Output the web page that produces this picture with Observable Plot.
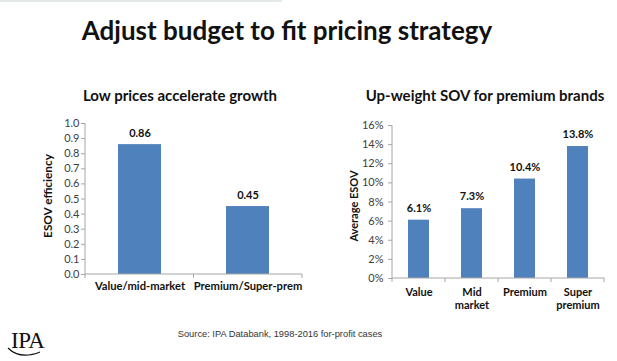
<!DOCTYPE html>
<html>
<head>
<meta charset="utf-8">
<script src="https://cdn.jsdelivr.net/npm/d3@7"></script>
<script src="https://cdn.jsdelivr.net/npm/@observablehq/plot@0.6"></script>
<style>
  html, body { margin: 0; padding: 0; background: #fff; }
  #page { position: relative; width: 617px; height: 361px; overflow: hidden; font-family: Lato, "Open Sans", sans-serif; background: #fff; }
  .abs { position: absolute; white-space: nowrap; }
  #topbar { left: 0; top: 0; width: 282px; height: 2px; background: #e3e9e9; }
  #title { left: 0; top: 15px; width: 574px; text-align: center; font-weight: 700; font-size: 26px; line-height: 30px; color: #111; }
  .sub { font-weight: 700; font-size: 15px; line-height: 16px; color: #111; text-align: center; }
  #subL { left: 60px; top: 87px; width: 240px; }
  #subR { left: 365px; top: 87px; width: 240px; }
  #chartL { left: 0; top: 110px; }
  #chartR { left: 320px; top: 110px; }
  #source { left: 80px; top: 329px; width: 400px; text-align: center; font-family: "Liberation Sans", Arial, sans-serif; font-size: 9.3px; color: #333; }
  #logo { left: 11px; top: 328px; font-family: "Liberation Serif", "Times New Roman", serif; font-size: 23px; line-height: 26px; color: #111; letter-spacing: -0.5px; }
  #swoosh { left: 6px; top: 346px; }
</style>
</head>
<body>
<div id="page">
  <div id="topbar" class="abs"></div>
  <div id="title" class="abs">Adjust budget to fit pricing strategy</div>
  <div id="subL" class="abs sub">Low prices accelerate growth</div>
  <div id="subR" class="abs sub">Up-weight SOV for premium brands</div>
  <div id="chartL" class="abs"></div>
  <div id="chartR" class="abs"></div>
  <div id="source" class="abs">Source: IPA Databank, 1998-2016 for-profit cases</div>
  <div id="logo" class="abs">IPA</div>
  <svg id="swoosh" class="abs" width="40" height="14"><path d="M2,2 Q14,14 34,6" fill="none" stroke="#111" stroke-width="1.2"/></svg>
</div>
<script>
// ---- data ----
const leftCategories = ["Value/mid-market", "Premium/Super-prem"];
const leftValues = [0.86, 0.45];
const leftTicks = [0, 0.1, 0.2, 0.3, 0.4, 0.5, 0.6, 0.7, 0.8, 0.9, 1.0];
const leftYLabel = "ESOV efficiency";

const rightCategories = ["Value", "Mid market", "Premium", "Super premium"];
const rightValues = [6.1, 7.3, 10.4, 13.8];   // percent
const rightTicks = [0, 2, 4, 6, 8, 10, 12, 14, 16];
const rightYLabel = "Average ESOV";

const BAR = "#4f81bd";
const AXIS = "#a6a6a6";
const TICKTXT = "#404040";

// axis lines + category-boundary ticks, computed from the scales
function axisFrame() {
  return (index, scales, values, dims) => {
    const {width, height, marginLeft, marginRight, marginTop, marginBottom} = dims;
    const x = scales.x;
    const dom = x.domain();
    const bw = x.bandwidth();
    const centers = dom.map(d => x(d) + bw / 2);
    const xs = [marginLeft, ...centers.slice(1).map((c, i) => (c + centers[i]) / 2), width - marginRight];
    const y0 = height - marginBottom;
    const g = d3.create("svg:g").attr("stroke", AXIS).attr("fill", "none").attr("stroke-width", 1);
    g.append("line").attr("x1", marginLeft).attr("x2", marginLeft).attr("y1", marginTop).attr("y2", y0);
    g.append("line").attr("x1", marginLeft).attr("x2", width - marginRight).attr("y1", y0).attr("y2", y0);
    for (const xx of xs) g.append("line").attr("x1", xx).attr("x2", xx).attr("y1", y0).attr("y2", y0 + 4);
    return g.node();
  };
}

const leftData = leftCategories.map((c, i) => ({cat: c, v: leftValues[i]}));
const rightData = rightCategories.map((c, i) => ({cat: c, v: rightValues[i]}));

const pad = 0.6;
const left = Plot.plot({
  width: 310, height: 200,
  marginLeft: 85, marginRight: 8, marginTop: 13, marginBottom: 36,
  style: {fontFamily: "Lato, sans-serif", background: "transparent", overflow: "visible"},
  x: {domain: leftCategories, paddingInner: pad, paddingOuter: pad / 2, axis: null},
  y: {domain: [0, 1], axis: null},
  marks: [
    Plot.barY(leftData, {x: "cat", y: "v", fill: BAR}),
    Plot.axisY({ticks: leftTicks, tickFormat: d => d.toFixed(1), tickSize: 4, tickPadding: 2,
      stroke: AXIS, fill: TICKTXT, fontSize: 11, label: null}),
    Plot.axisX({tickSize: 0, tickPadding: 8, fill: "#111", fontSize: 11.2, fontWeight: "bold", label: null}),
    axisFrame(),
    Plot.text(leftData, {x: "cat", y: "v", text: d => d.v.toFixed(2), dy: -11, fontWeight: "bold", fontSize: 11, fill: "#111"}),
    Plot.text([leftYLabel], {frameAnchor: "left", textAnchor: "middle", rotate: -90, dx: -37, dy: -3, fontWeight: "bold", fontSize: 11.8, fill: "#111"})
  ]
});
document.getElementById("chartL").append(left);

const right = Plot.plot({
  width: 297, height: 210,
  marginLeft: 72, marginRight: 13, marginTop: 15, marginBottom: 42,
  style: {fontFamily: "Lato, sans-serif", background: "transparent", overflow: "visible"},
  x: {domain: rightCategories, paddingInner: pad, paddingOuter: pad / 2, axis: null},
  y: {domain: [0, 16], axis: null},
  marks: [
    Plot.barY(rightData, {x: "cat", y: "v", fill: BAR}),
    Plot.axisY({ticks: rightTicks, tickFormat: d => d + "%", tickSize: 4, tickPadding: 5,
      stroke: AXIS, fill: TICKTXT, fontSize: 11, label: null}),
    Plot.axisX({tickSize: 0, tickPadding: 8, fill: "#111", fontSize: 11, fontWeight: "bold", label: null,
      tickFormat: d => d.replace(" ", "\n"), lineHeight: 1.2}),
    axisFrame(),
    Plot.text(rightData, {x: "cat", y: "v", text: d => d.v.toFixed(1) + "%", dy: -12, fontWeight: "bold", fontSize: 11, fill: "#111"}),
    Plot.text([rightYLabel], {frameAnchor: "left", textAnchor: "middle", rotate: -90, dx: -38, dy: 4, fontWeight: "bold", fontSize: 11, fill: "#111"})
  ]
});
document.getElementById("chartR").append(right);
</script>
</body>
</html>
